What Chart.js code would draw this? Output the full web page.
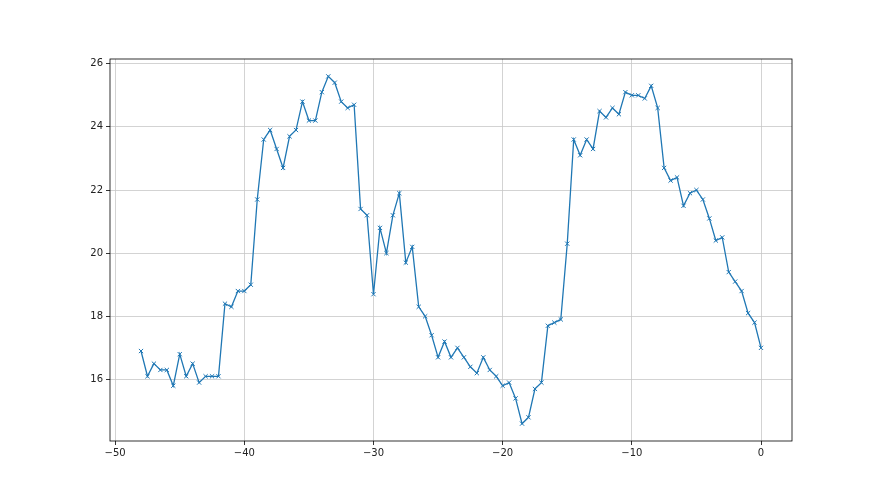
<!DOCTYPE html>
<html>
<head>
<meta charset="utf-8">
<script src="https://cdn.jsdelivr.net/npm/chart.js@4"></script>
<style>
  html, body { margin: 0; padding: 0; background: #fff; }
  canvas { display: block; }
</style>
</head>
<body>
<canvas id="chart" width="880" height="495"></canvas>
<script>
const xValues = [];
for (let i = 0; i <= 96; i++) xValues.push(-48 + i * 0.5);

const yValues = [
  16.9, 16.1, 16.5, 16.3, 16.3, 15.8, 16.8, 16.1, 16.5, 15.9,
  16.1, 16.1, 16.1, 18.4, 18.3, 18.8, 18.8, 19.0, 21.7, 23.6,
  23.9, 23.3, 22.7, 23.7, 23.9, 24.8, 24.2, 24.2, 25.1, 25.6,
  25.4, 24.8, 24.6, 24.7, 21.4, 21.2, 18.7, 20.8, 20.0, 21.2,
  21.9, 19.7, 20.2, 18.3, 18.0, 17.4, 16.7, 17.2, 16.7, 17.0,
  16.7, 16.4, 16.2, 16.7, 16.3, 16.1, 15.8, 15.9, 15.4, 14.6,
  14.8, 15.7, 15.9, 17.7, 17.8, 17.9, 20.3, 23.6, 23.1, 23.6,
  23.3, 24.5, 24.3, 24.6, 24.4, 25.1, 25.0, 25.0, 24.9, 25.3,
  24.6, 22.7, 22.3, 22.4, 21.5, 21.9, 22.0, 21.7, 21.1, 20.4,
  20.5, 19.4, 19.1, 18.8, 18.1, 17.8, 17.0
];

const xTicks = [-50, -40, -30, -20, -10, 0];
const yTicks = [16, 18, 20, 22, 24, 26];

const fmt = v => String(v).replace('-', '\u2212');

const frame = {
  id: 'frame',
  afterDraw(chart) {
    const { ctx, chartArea: a } = chart;
    ctx.save();
    ctx.strokeStyle = '#000';
    ctx.lineWidth = 0.8;
    ctx.strokeRect(a.left, a.top, a.right - a.left, a.bottom - a.top);
    ctx.restore();
  }
};

new Chart(document.getElementById('chart'), {
  type: 'line',
  data: {
    datasets: [{
      data: xValues.map((x, i) => ({ x: x, y: yValues[i] })),
      borderColor: '#1f77b4',
      backgroundColor: '#1f77b4',
      borderWidth: 1.3,
      pointStyle: 'crossRot',
      pointRadius: 3,
      pointBorderWidth: 1,
      tension: 0,
      fill: false
    }]
  },
  options: {
    responsive: false,
    animation: false,
    layout: { padding: { left: 0, top: 59, right: 88, bottom: 0 } },
    plugins: { legend: { display: false }, tooltip: { enabled: false } },
    scales: {
      x: {
        type: 'linear',
        min: -50.4,
        max: 2.4,
        afterBuildTicks: s => { s.ticks = xTicks.map(v => ({ value: v })); },
        afterFit: s => { s.height = 54; },
        border: { display: false },
        grid: { color: '#c8c8c8', lineWidth: 0.8, tickColor: '#000', tickLength: 4 },
        ticks: {
          color: '#222',
          font: { family: 'DejaVu Sans', size: 10 },
          padding: 2,
          maxRotation: 0,
          callback: v => fmt(v)
        }
      },
      y: {
        min: 14.05,
        max: 26.15,
        afterBuildTicks: s => { s.ticks = yTicks.map(v => ({ value: v })); },
        afterFit: s => { s.width = 110; },
        border: { display: false },
        grid: { color: '#c8c8c8', lineWidth: 0.8, tickColor: '#000', tickLength: 4 },
        ticks: {
          color: '#222',
          font: { family: 'DejaVu Sans', size: 10 },
          padding: 3,
          callback: v => fmt(v)
        }
      }
    }
  },
  plugins: [frame]
});
</script>
</body>
</html>
